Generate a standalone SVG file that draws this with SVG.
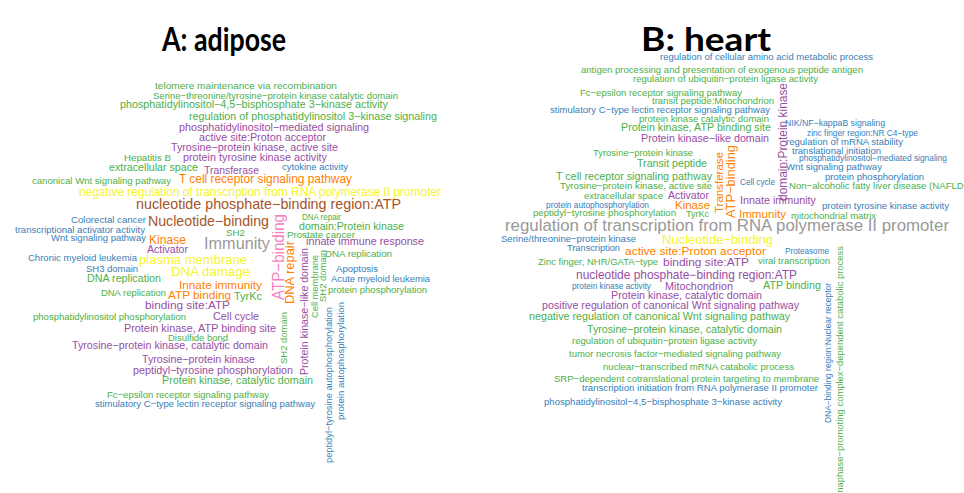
<svg xmlns="http://www.w3.org/2000/svg" width="964" height="493" viewBox="0 0 964 493">
<style>
text{font-family:"Liberation Sans",Arial,sans-serif}
.t{font-family:Lato,"Liberation Sans",sans-serif;font-weight:bold;fill:#000}
.g{fill:#4DAF4A}.p{fill:#984EA3}.b{fill:#377EB8}.o{fill:#FF7F00}.y{fill:#F5F52E}.br{fill:#A65628}.pk{fill:#F781BF}.gy{fill:#999999}
</style>
<rect width="964" height="493" fill="#fff"/>
<g id="titles">
<text class="t" x="162" y="51" font-size="32" textLength="124" lengthAdjust="spacingAndGlyphs">A: adipose</text>
<text class="t" x="641" y="51" font-size="32" textLength="130" lengthAdjust="spacingAndGlyphs">B: heart</text>
</g>
<g id="adipose">
<text class="g" x="155" y="89" font-size="9.9" textLength="182" lengthAdjust="spacingAndGlyphs">telomere maintenance via recombination</text>
<text class="g" x="153" y="98.5" font-size="9.5" textLength="245" lengthAdjust="spacingAndGlyphs">Serine−threonine/tyrosine−protein kinase catalytic domain</text>
<text class="g" x="120" y="108" font-size="10.5" textLength="268" lengthAdjust="spacingAndGlyphs">phosphatidylinositol−4,5−bisphosphate 3−kinase activity</text>
<text class="g" x="189" y="120" font-size="10.8" textLength="248" lengthAdjust="spacingAndGlyphs">regulation of phosphatidylinositol 3−kinase signaling</text>
<text class="p" x="179" y="131" font-size="10.8" textLength="190" lengthAdjust="spacingAndGlyphs">phosphatidylinositol−mediated signaling</text>
<text class="p" x="199" y="140.5" font-size="10.5" textLength="127" lengthAdjust="spacingAndGlyphs">active site:Proton acceptor</text>
<text class="p" x="171" y="150.5" font-size="10.7" textLength="167" lengthAdjust="spacingAndGlyphs">Tyrosine−protein kinase, active site</text>
<text class="g" x="124" y="161" font-size="9.7" textLength="47" lengthAdjust="spacingAndGlyphs">Hepatitis B</text>
<text class="p" x="183" y="161" font-size="10.8" textLength="144" lengthAdjust="spacingAndGlyphs">protein tyrosine kinase activity</text>
<text class="g" x="109" y="170.5" font-size="10.7" textLength="89" lengthAdjust="spacingAndGlyphs">extracellular space</text>
<text class="p" x="204" y="173.5" font-size="10.3" textLength="55" lengthAdjust="spacingAndGlyphs">Transferase</text>
<text class="b" x="282" y="170" font-size="9.5" textLength="66" lengthAdjust="spacingAndGlyphs">cytokine activity</text>
<text class="g" x="32" y="184" font-size="9.6" textLength="139" lengthAdjust="spacingAndGlyphs">canonical Wnt signaling pathway</text>
<text class="o" x="179" y="182.5" font-size="11.9" textLength="173" lengthAdjust="spacingAndGlyphs">T cell receptor signaling pathway</text>
<text class="y" x="79" y="195.5" font-size="11.9" textLength="362" lengthAdjust="spacingAndGlyphs">negative regulation of transcription from RNA polymerase II promoter</text>
<text class="br" x="136" y="208.5" font-size="14.2" textLength="265" lengthAdjust="spacingAndGlyphs">nucleotide phosphate−binding region:ATP</text>
<text class="b" x="71" y="223" font-size="9.5" textLength="75" lengthAdjust="spacingAndGlyphs">Colorectal cancer</text>
<text class="br" x="148" y="225.5" font-size="14.2" textLength="121" lengthAdjust="spacingAndGlyphs">Nucleotide−binding</text>
<text class="g" x="302" y="220" font-size="9.3" textLength="39" lengthAdjust="spacingAndGlyphs">DNA repair</text>
<text class="g" x="299" y="230" font-size="10.6" textLength="105" lengthAdjust="spacingAndGlyphs">domain:Protein kinase</text>
<text class="b" x="15" y="232.5" font-size="9.5" textLength="130" lengthAdjust="spacingAndGlyphs">transcriptional activator activity</text>
<text class="g" x="226" y="236" font-size="9.8" textLength="19" lengthAdjust="spacingAndGlyphs">SH2</text>
<text class="g" x="287" y="237.5" font-size="9.7" textLength="68" lengthAdjust="spacingAndGlyphs">Prostate cancer</text>
<text class="b" x="51" y="240.5" font-size="9.5" textLength="95" lengthAdjust="spacingAndGlyphs">Wnt signaling pathway</text>
<text class="o" x="149" y="243.5" font-size="12.1" textLength="37" lengthAdjust="spacingAndGlyphs">Kinase</text>
<text class="gy" x="204" y="248.5" font-size="16.3" textLength="66" lengthAdjust="spacingAndGlyphs">Immunity</text>
<text class="p" x="306" y="245" font-size="10.8" textLength="118" lengthAdjust="spacingAndGlyphs">innate immune response</text>
<text class="p" x="147" y="252.5" font-size="10.5" textLength="41" lengthAdjust="spacingAndGlyphs">Activator</text>
<text class="b" x="28" y="261" font-size="9.5" textLength="109" lengthAdjust="spacingAndGlyphs">Chronic myeloid leukemia</text>
<text class="y" x="139" y="263.5" font-size="13" textLength="108" lengthAdjust="spacingAndGlyphs">plasma membrane</text>
<text class="g" x="325" y="257" font-size="9.6" textLength="67" lengthAdjust="spacingAndGlyphs">DNA replication</text>
<text class="b" x="86" y="271.5" font-size="9.5" textLength="52" lengthAdjust="spacingAndGlyphs">SH3 domain</text>
<text class="y" x="171" y="276" font-size="13.2" textLength="79" lengthAdjust="spacingAndGlyphs">DNA damage</text>
<text class="b" x="336" y="271.5" font-size="9.6" textLength="42" lengthAdjust="spacingAndGlyphs">Apoptosis</text>
<text class="g" x="87" y="281.5" font-size="10.7" textLength="74" lengthAdjust="spacingAndGlyphs">DNA replication</text>
<text class="b" x="331" y="281.5" font-size="9.5" textLength="99" lengthAdjust="spacingAndGlyphs">Acute myeloid leukemia</text>
<text class="o" x="179" y="288.5" font-size="11.8" textLength="83" lengthAdjust="spacingAndGlyphs">Innate immunity</text>
<text class="g" x="328" y="292.5" font-size="9.6" textLength="99" lengthAdjust="spacingAndGlyphs">protein phosphorylation</text>
<text class="g" x="101" y="295.5" font-size="9.4" textLength="65" lengthAdjust="spacingAndGlyphs">DNA replication</text>
<text class="o" x="168" y="298.5" font-size="11.6" textLength="63" lengthAdjust="spacingAndGlyphs">ATP binding</text>
<text class="g" x="234" y="299.5" font-size="10.7" textLength="28" lengthAdjust="spacingAndGlyphs">TyrKc</text>
<text class="p" x="145" y="308.5" font-size="11.7" textLength="85" lengthAdjust="spacingAndGlyphs">binding site:ATP</text>
<text class="g" x="33" y="319.5" font-size="9.6" textLength="153" lengthAdjust="spacingAndGlyphs">phosphatidylinositol phosphorylation</text>
<text class="p" x="213" y="319.5" font-size="10.75" textLength="46" lengthAdjust="spacingAndGlyphs">Cell cycle</text>
<text class="p" x="124" y="331.5" font-size="11.3" textLength="152" lengthAdjust="spacingAndGlyphs">Protein kinase, ATP binding site</text>
<text class="g" x="168" y="341" font-size="9.5" textLength="60" lengthAdjust="spacingAndGlyphs">Disulfide bond</text>
<text class="p" x="72" y="348.5" font-size="10.8" textLength="196" lengthAdjust="spacingAndGlyphs">Tyrosine−protein kinase, catalytic domain</text>
<text class="p" x="142" y="362.5" font-size="10.6" textLength="113" lengthAdjust="spacingAndGlyphs">Tyrosine−protein kinase</text>
<text class="p" x="133" y="374" font-size="10.8" textLength="160" lengthAdjust="spacingAndGlyphs">peptidyl−tyrosine phosphorylation</text>
<text class="g" x="162" y="383.5" font-size="10.7" textLength="151" lengthAdjust="spacingAndGlyphs">Protein kinase, catalytic domain</text>
<text class="g" x="107" y="397.5" font-size="9.5" textLength="162" lengthAdjust="spacingAndGlyphs">Fc−epsilon receptor signaling pathway</text>
<text class="b" x="95" y="406.5" font-size="9.3" textLength="220" lengthAdjust="spacingAndGlyphs">stimulatory C−type lectin receptor signaling pathway</text>
<text class="pk" transform="translate(283.5,300) rotate(-90)" font-size="16.5" textLength="86" lengthAdjust="spacingAndGlyphs">ATP−binding</text>
<text class="o" transform="translate(294,304) rotate(-90)" font-size="12.2" textLength="63" lengthAdjust="spacingAndGlyphs">DNA repair</text>
<text class="p" transform="translate(308,375) rotate(-90)" font-size="10.8" textLength="127" lengthAdjust="spacingAndGlyphs">Protein kinase−like domain</text>
<text class="g" transform="translate(317.8,318) rotate(-90)" font-size="9.5" textLength="63" lengthAdjust="spacingAndGlyphs">Cell membrane</text>
<text class="g" transform="translate(325.8,302) rotate(-90)" font-size="9.5" textLength="52" lengthAdjust="spacingAndGlyphs">SH2 domain</text>
<text class="g" transform="translate(287.3,364) rotate(-90)" font-size="9.5" textLength="52" lengthAdjust="spacingAndGlyphs">SH2 domain</text>
<text class="b" transform="translate(331.5,463) rotate(-90)" font-size="9.5" textLength="156" lengthAdjust="spacingAndGlyphs">peptidyl−tyrosine autophosphorylation</text>
<text class="b" transform="translate(343.7,420) rotate(-90)" font-size="9.8" textLength="118" lengthAdjust="spacingAndGlyphs">protein autophosphorylation</text>
</g>
<g id="heart">
<text class="b" x="660" y="60" font-size="9.3" textLength="213" lengthAdjust="spacingAndGlyphs">regulation of cellular amino acid metabolic process</text>
<text class="g" x="581" y="72.5" font-size="9.5" textLength="282" lengthAdjust="spacingAndGlyphs">antigen processing and presentation of exogenous peptide antigen</text>
<text class="g" x="633" y="81.5" font-size="9.4" textLength="185" lengthAdjust="spacingAndGlyphs">regulation of ubiquitin−protein ligase activity</text>
<text class="g" x="580" y="95.5" font-size="9.5" textLength="162" lengthAdjust="spacingAndGlyphs">Fc−epsilon receptor signaling pathway</text>
<text class="g" x="652" y="104" font-size="9.5" textLength="122" lengthAdjust="spacingAndGlyphs">transit peptide:Mitochondrion</text>
<text class="b" x="550" y="112.5" font-size="9.3" textLength="220" lengthAdjust="spacingAndGlyphs">stimulatory C−type lectin receptor signaling pathway</text>
<text class="g" x="639" y="121.5" font-size="9.5" textLength="130" lengthAdjust="spacingAndGlyphs">protein kinase catalytic domain</text>
<text class="b" x="785" y="126" font-size="9" textLength="100" lengthAdjust="spacingAndGlyphs">NIK/NF−kappaB signaling</text>
<text class="g" x="621" y="130.5" font-size="11.2" textLength="150" lengthAdjust="spacingAndGlyphs">Protein kinase, ATP binding site</text>
<text class="b" x="807" y="136" font-size="8.6" textLength="111" lengthAdjust="spacingAndGlyphs">zinc finger region:NR C4−type</text>
<text class="p" x="641" y="142" font-size="10.7" textLength="128" lengthAdjust="spacingAndGlyphs">Protein kinase−like domain</text>
<text class="b" x="786" y="145" font-size="9.3" textLength="117" lengthAdjust="spacingAndGlyphs">regulation of mRNA stability</text>
<text class="g" x="593" y="156" font-size="9.4" textLength="100" lengthAdjust="spacingAndGlyphs">Tyrosine−protein kinase</text>
<text class="b" x="792" y="153.5" font-size="9.6" textLength="89" lengthAdjust="spacingAndGlyphs">translational initiation</text>
<text class="g" x="637" y="166.5" font-size="10.6" textLength="70" lengthAdjust="spacingAndGlyphs">Transit peptide</text>
<text class="b" x="799" y="160.5" font-size="8.4" textLength="148" lengthAdjust="spacingAndGlyphs">phosphatidylinositol−mediated signaling</text>
<text class="b" x="786" y="170" font-size="9.6" textLength="96" lengthAdjust="spacingAndGlyphs">Wnt signaling pathway</text>
<text class="g" x="556" y="180" font-size="10.7" textLength="156" lengthAdjust="spacingAndGlyphs">T cell receptor signaling pathway</text>
<text class="b" x="825" y="179.5" font-size="9.6" textLength="99" lengthAdjust="spacingAndGlyphs">protein phosphorylation</text>
<text class="g" x="560" y="188.5" font-size="9.7" textLength="152" lengthAdjust="spacingAndGlyphs">Tyrosine−protein kinase, active site</text>
<text class="b" x="740" y="185" font-size="8.2" textLength="35" lengthAdjust="spacingAndGlyphs">Cell cycle</text>
<text class="g" x="789" y="188.5" font-size="9.6" textLength="178" lengthAdjust="spacingAndGlyphs">Non−alcoholic fatty liver disease (NAFLD)</text>
<text class="g" x="584" y="198.5" font-size="9.5" textLength="79" lengthAdjust="spacingAndGlyphs">extracellular space</text>
<text class="p" x="668" y="198.5" font-size="10.5" textLength="41" lengthAdjust="spacingAndGlyphs">Activator</text>
<text class="p" x="740" y="203.5" font-size="10.8" textLength="76" lengthAdjust="spacingAndGlyphs">Innate immunity</text>
<text class="b" x="546" y="207.5" font-size="8.6" textLength="103" lengthAdjust="spacingAndGlyphs">protein autophosphorylation</text>
<text class="o" x="675" y="208.5" font-size="11.5" textLength="35" lengthAdjust="spacingAndGlyphs">Kinase</text>
<text class="b" x="822" y="209" font-size="9.5" textLength="127" lengthAdjust="spacingAndGlyphs">protein tyrosine kinase activity</text>
<text class="g" x="533" y="216" font-size="9.7" textLength="143" lengthAdjust="spacingAndGlyphs">peptidyl−tyrosine phosphorylation</text>
<text class="g" x="686" y="216.5" font-size="8.8" textLength="23" lengthAdjust="spacingAndGlyphs">TyrKc</text>
<text class="o" x="739" y="217.5" font-size="11.6" textLength="47" lengthAdjust="spacingAndGlyphs">Immunity</text>
<text class="g" x="791" y="218.5" font-size="9.5" textLength="85" lengthAdjust="spacingAndGlyphs">mitochondrial matrix</text>
<text class="gy" x="505" y="230.5" font-size="16.8" textLength="444" lengthAdjust="spacingAndGlyphs">regulation of transcription from RNA polymerase II promoter</text>
<text class="b" x="501" y="241.5" font-size="9.5" textLength="135" lengthAdjust="spacingAndGlyphs">Serine/threonine−protein kinase</text>
<text class="y" x="662" y="243.5" font-size="13" textLength="111" lengthAdjust="spacingAndGlyphs">Nucleotide−binding</text>
<text class="b" x="567" y="250.5" font-size="9.2" textLength="53" lengthAdjust="spacingAndGlyphs">Transcription</text>
<text class="o" x="625" y="255" font-size="11.7" textLength="141" lengthAdjust="spacingAndGlyphs">active site:Proton acceptor</text>
<text class="b" x="785" y="253.5" font-size="8.2" textLength="44" lengthAdjust="spacingAndGlyphs">Proteasome</text>
<text class="g" x="758" y="263.5" font-size="9.5" textLength="72" lengthAdjust="spacingAndGlyphs">viral transcription</text>
<text class="g" x="538" y="265" font-size="9.3" textLength="120" lengthAdjust="spacingAndGlyphs">Zinc finger, NHR/GATA−type</text>
<text class="p" x="663" y="266" font-size="11.8" textLength="86" lengthAdjust="spacingAndGlyphs">binding site:ATP</text>
<text class="p" x="576" y="278.5" font-size="11.9" textLength="221" lengthAdjust="spacingAndGlyphs">nucleotide phosphate−binding region:ATP</text>
<text class="b" x="572" y="288.5" font-size="8.3" textLength="79" lengthAdjust="spacingAndGlyphs">protein kinase activity</text>
<text class="p" x="665" y="290" font-size="10.8" textLength="68" lengthAdjust="spacingAndGlyphs">Mitochondrion</text>
<text class="g" x="763" y="288.5" font-size="10.6" textLength="58" lengthAdjust="spacingAndGlyphs">ATP binding</text>
<text class="p" x="611" y="298.5" font-size="10.7" textLength="151" lengthAdjust="spacingAndGlyphs">Protein kinase, catalytic domain</text>
<text class="p" x="542" y="308.5" font-size="10.4" textLength="257" lengthAdjust="spacingAndGlyphs">positive regulation of canonical Wnt signaling pathway</text>
<text class="g" x="529" y="320" font-size="10.4" textLength="261" lengthAdjust="spacingAndGlyphs">negative regulation of canonical Wnt signaling pathway</text>
<text class="g" x="587" y="332.5" font-size="10.7" textLength="195" lengthAdjust="spacingAndGlyphs">Tyrosine−protein kinase, catalytic domain</text>
<text class="g" x="572" y="343.5" font-size="9.4" textLength="185" lengthAdjust="spacingAndGlyphs">regulation of ubiquitin−protein ligase activity</text>
<text class="g" x="569" y="357" font-size="9.5" textLength="212" lengthAdjust="spacingAndGlyphs">tumor necrosis factor−mediated signaling pathway</text>
<text class="g" x="603" y="369.5" font-size="9.5" textLength="191" lengthAdjust="spacingAndGlyphs">nuclear−transcribed mRNA catabolic process</text>
<text class="g" x="554" y="382" font-size="9.5" textLength="265" lengthAdjust="spacingAndGlyphs">SRP−dependent cotranslational protein targeting to membrane</text>
<text class="b" x="582" y="391" font-size="9.5" textLength="236" lengthAdjust="spacingAndGlyphs">transcription initiation from RNA polymerase II promoter</text>
<text class="b" x="544" y="405" font-size="9.4" textLength="238" lengthAdjust="spacingAndGlyphs">phosphatidylinositol−4,5−bisphosphate 3−kinase activity</text>
<text class="p" transform="translate(786.5,201) rotate(-90)" font-size="12" textLength="118" lengthAdjust="spacingAndGlyphs">domain:Protein kinase</text>
<text class="o" transform="translate(723,213) rotate(-90)" font-size="11.5" textLength="61" lengthAdjust="spacingAndGlyphs">Transferase</text>
<text class="o" transform="translate(734.5,218) rotate(-90)" font-size="13.3" textLength="73" lengthAdjust="spacingAndGlyphs">ATP−binding</text>
<text class="b" transform="translate(830.5,423) rotate(-90)" font-size="8.5" textLength="140" lengthAdjust="spacingAndGlyphs">DNA−binding region:Nuclear receptor</text>
<text class="g" transform="translate(843,498) rotate(-90)" font-size="9.5" textLength="252" lengthAdjust="spacingAndGlyphs">anaphase−promoting complex−dependent catabolic process</text>
</g>
</svg>
